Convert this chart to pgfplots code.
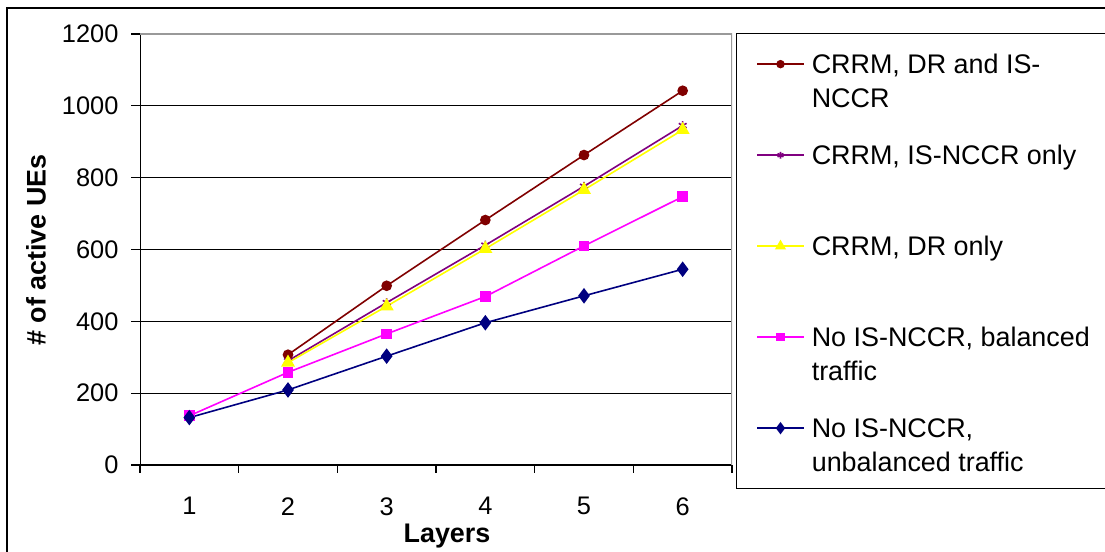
\documentclass[border=0pt]{standalone}
\usepackage{fontspec}
\setmainfont{Liberation Sans}
\usepackage{pgfplots}
\pgfplotsset{compat=1.18}
\definecolor{cdred}{RGB}{128,0,0}
\definecolor{cpurple}{RGB}{128,0,128}
\definecolor{cyellow}{RGB}{255,255,0}
\definecolor{cmag}{RGB}{255,0,255}
\definecolor{cnavy}{RGB}{0,0,128}
\begin{document}
\begin{tikzpicture}
\useasboundingbox (0,0) rectangle (1105bp,552bp);
\fill[white] (0,0) rectangle (1105bp,552bp);
\draw[line width=1.5bp] (7bp,-20bp) -- (7bp,544bp) -- (1130bp,544bp);
\begin{axis}[
  at={(140bp,87bp)}, anchor=south west,
  width=592bp, height=431bp, scale only axis,
  xmin=0.5, xmax=6.5, ymin=0, ymax=1200,
  axis line style={draw=none},
  xtick={1,...,6}, xticklabels={1,2,3,4,5,6},
  xtick pos=left, ytick pos=left,
  tick align=outside,
  xtick style={draw=none},
  extra x ticks={0.5,1.5,...,6.5}, extra x tick labels={},
  extra x tick style={xtick style={draw=black, line width=1.2bp}, major tick length=8bp},
  ytick={0,200,...,1200},
  ytick style={draw=black, line width=1.2bp}, major tick length=9bp,
  ymajorgrids, major grid style={black, line width=1bp},
  /pgf/number format/assume math mode=true,
  /pgf/number format/1000 sep={},
  ticklabel style={font=\fontsize{25.5}{30}\selectfont},
  yticklabel style={xshift=-9bp},
  xticklabel style={yshift=-20bp},
  xlabel={Layers},
  ylabel={\# of active UEs},
  label style={font=\fontsize{27}{32}\selectfont\bfseries},
  xlabel style={at={(axis description cs:0.5186,-0.1787)}, anchor=base},
  ylabel style={at={(axis description cs:-0.1757,0.4988)}, anchor=center},
  legend style={at={(axis description cs:1.006,1.0023)}, anchor=north west,
    draw=black, line width=1.3bp, fill=white,
    inner xsep=20bp, inner ysep=0pt,
    font=\fontsize{27}{34}\selectfont,
    row sep=0pt, column sep=7bp,
    cells={anchor=base west},
    nodes={inner sep=0pt, text height=40bp, text depth=51bp}},
  legend image code/.code={\draw[mark repeat=2, mark phase=2, #1, every mark/.append style={scale=0.75}] plot coordinates {(0bp,9.5bp) (23.5bp,9.5bp) (47bp,9.5bp)};},
]
\draw[black, line width=1.2bp] (rel axis cs:0,1) -- (rel axis cs:0,0) -- (rel axis cs:1,0);
\draw[gray!80, line width=1.2bp] (rel axis cs:0,1) -- (rel axis cs:1,1) -- (rel axis cs:1,0);

\addplot[color=cdred, line width=1.6bp, mark=*, mark size=4.5bp] coordinates {
 (2,307) (3,499) (4,682) (5,863) (6,1042)};
\addlegendentry{\parbox[t]{330bp}{CRRM, DR and IS-\\NCCR}}

\addplot[color=cpurple, line width=1.6bp, mark=asterisk, mark size=4.5bp] coordinates {
 (2,290) (3,452) (4,612) (5,776) (6,945)};
\addlegendentry{CRRM, IS-NCCR only}

\addplot[color=cyellow, line width=1.6bp, mark=triangle*, mark size=6.5bp] coordinates {
 (2,285) (3,442) (4,602) (5,766) (6,933)};
\addlegendentry{CRRM, DR only}

\addplot[color=cmag, line width=1.6bp, mark=square*, mark size=4.5bp] coordinates {
 (1,137) (2,258) (3,365) (4,469) (5,610) (6,747)};
\addlegendentry{\parbox[t]{330bp}{No IS-NCCR, balanced\\traffic}}

\addplot[color=cnavy, line width=1.6bp, mark=diamond*, mark size=6.5bp] coordinates {
 (1,132) (2,209) (3,303) (4,396) (5,471) (6,545)};
\addlegendentry{\parbox[t]{330bp}{No IS-NCCR,\\unbalanced traffic}}
\end{axis}
\end{tikzpicture}
\end{document}
